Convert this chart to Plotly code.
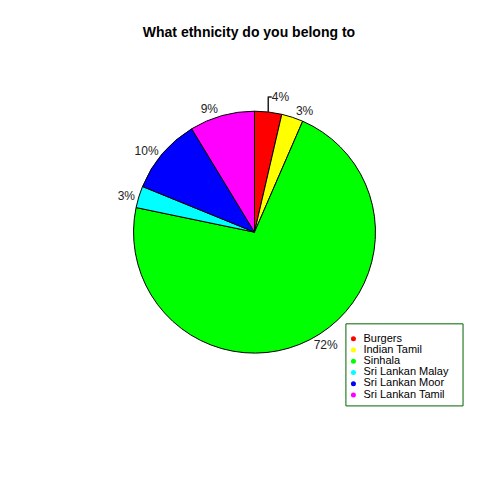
import plotly.graph_objects as go

categories = ["Burgers", "Indian Tamil", "Sinhala", "Sri Lankan Malay", "Sri Lankan Moor", "Sri Lankan Tamil"]
counts = [5, 4, 99, 4, 14, 12]
colors = ["#FF0000", "#FFFF00", "#00FF00", "#00FFFF", "#0000FF", "#FF00FF"]

total = sum(counts)
pct_labels = [f"{round(100 * c / total)}%" for c in counts]

fig = go.Figure()
fig.add_trace(go.Pie(
    labels=categories, values=counts, sort=False, direction="clockwise", rotation=0,
    marker=dict(colors=colors, line=dict(color="black", width=1)),
    text=pct_labels, textinfo="text", textposition="outside",
    textfont=dict(family="Liberation Sans, Arial", size=12, color="#222222"),
    showlegend=False, hoverinfo="label+percent",
    domain=dict(x=[0.2615, 0.7656], y=[0.281, 0.785]),
))

# legend drawn as a small hidden-axes subplot
rows = list(range(len(categories)))
fig.add_trace(go.Scatter(
    x=[0] * len(categories), y=rows, mode="markers",
    marker=dict(color=colors, size=5, symbol="circle", line=dict(width=0)),
    xaxis="x2", yaxis="y2", showlegend=False, hoverinfo="skip",
))
fig.add_trace(go.Scatter(
    x=[1] * len(categories), y=rows, mode="text", text=categories, textposition="middle right",
    textfont=dict(family="Liberation Sans, Arial", size=11, color="black"),
    xaxis="x2", yaxis="y2", showlegend=False, hoverinfo="skip",
))

fig.update_layout(
    width=480, height=480, margin=dict(l=0, r=0, t=0, b=0),
    paper_bgcolor="white", plot_bgcolor="rgba(0,0,0,0)",
    title=dict(text="<b>What ethnicity do you belong to</b>", x=0.502, xanchor="center", y=0.95, yanchor="middle",
               font=dict(family="Liberation Sans, Arial", size=14, color="black")),
    xaxis2=dict(domain=[0.704, 0.948], range=[-0.75, 10.95], visible=False, fixedrange=True),
    yaxis2=dict(domain=[0.171, 0.342], range=[5.98, -1.34], visible=False, fixedrange=True),
    shapes=[dict(type="rect", xref="paper", yref="paper", x0=0.704, x1=0.948, y0=0.171, y1=0.342,
                 line=dict(color="#006400", width=1))],
)

fig.write_html("out.html")
